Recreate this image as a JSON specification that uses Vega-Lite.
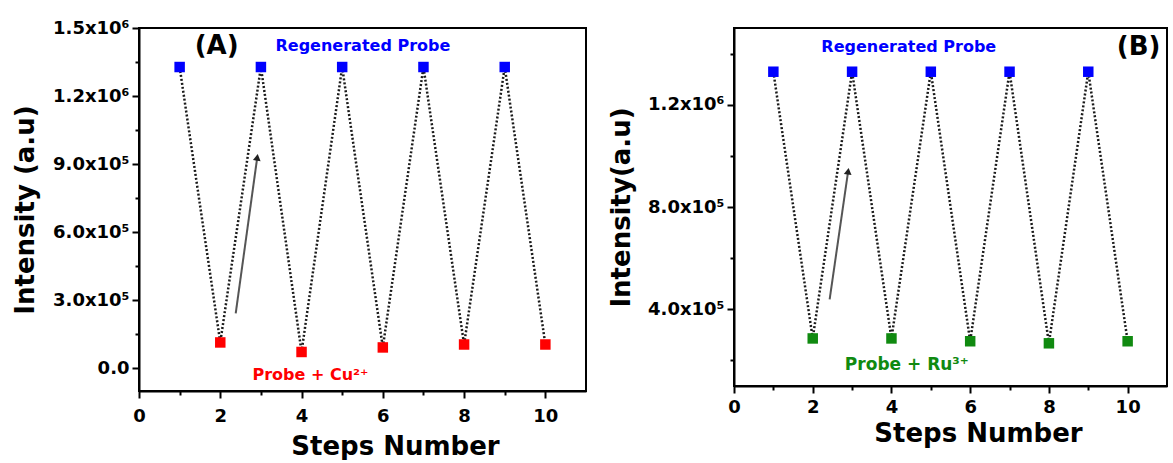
{
  "$schema": "https://vega.github.io/schema/vega-lite/v6.json",
  "background": "white",
  "padding": {"left": 11, "top": 18, "right": 2, "bottom": 0},
  "spacing": 20,
  "datasets": {
    "a_points": [
      {"step": 1, "intensity": 1328000, "state": "Regenerated Probe"},
      {"step": 2, "intensity": 114000, "state": "Probe + Cu2+"},
      {"step": 3, "intensity": 1328000, "state": "Regenerated Probe"},
      {"step": 4, "intensity": 72000, "state": "Probe + Cu2+"},
      {"step": 5, "intensity": 1328000, "state": "Regenerated Probe"},
      {"step": 6, "intensity": 92000, "state": "Probe + Cu2+"},
      {"step": 7, "intensity": 1328000, "state": "Regenerated Probe"},
      {"step": 8, "intensity": 105000, "state": "Probe + Cu2+"},
      {"step": 9, "intensity": 1328000, "state": "Regenerated Probe"},
      {"step": 10, "intensity": 105000, "state": "Probe + Cu2+"}
    ],
    "b_points": [
      {"step": 1, "intensity": 1329000, "state": "Regenerated Probe"},
      {"step": 2, "intensity": 286000, "state": "Probe + Ru3+"},
      {"step": 3, "intensity": 1329000, "state": "Regenerated Probe"},
      {"step": 4, "intensity": 286000, "state": "Probe + Ru3+"},
      {"step": 5, "intensity": 1329000, "state": "Regenerated Probe"},
      {"step": 6, "intensity": 275000, "state": "Probe + Ru3+"},
      {"step": 7, "intensity": 1329000, "state": "Regenerated Probe"},
      {"step": 8, "intensity": 267000, "state": "Probe + Ru3+"},
      {"step": 9, "intensity": 1329000, "state": "Regenerated Probe"},
      {"step": 10, "intensity": 275000, "state": "Probe + Ru3+"}
    ],
    "a_arrow": [{"step": 2.38, "intensity": 242000, "step_end": 2.91, "intensity_end": 930000}],
    "b_arrow": [{"step": 2.43, "intensity": 439000, "step_end": 2.9, "intensity_end": 940000}],
    "a_notes": [
      {"step": 1.91, "intensity": 1420000, "label": "(A)", "kind": "panel"},
      {"step": 5.51, "intensity": 1420000, "label": "Regenerated Probe", "kind": "regen"},
      {"step": 4.22, "intensity": -31000, "label": "Probe + Cu²⁺", "kind": "complex"}
    ],
    "b_notes": [
      {"step": 10.28, "intensity": 1424000, "label": "(B)", "kind": "panel"},
      {"step": 4.44, "intensity": 1427000, "label": "Regenerated Probe", "kind": "regen"},
      {"step": 4.39, "intensity": 184000, "label": "Probe + Ru³⁺", "kind": "complex"}
    ]
  },
  "hconcat": [
    {
      "width": 447,
      "height": 363,
      "encoding": {
        "x": {
          "field": "step", "type": "quantitative",
          "scale": {"domain": [0, 11], "nice": false, "zero": false},
          "axis": {
            "title": "Steps Number",
            "values": [0, 1, 2, 3, 4, 5, 6, 7, 8, 9, 10],
            "labelExpr": "datum.value % 2 == 0 ? datum.label : ''",
            "tickSize": {"condition": {"test": "datum.value % 2 != 0", "value": 4}, "value": 7},
            "labelPadding": 9,
            "titleX": 256, "titleY": 55, "titleBaseline": "middle"
          }
        },
        "y": {
          "field": "intensity", "type": "quantitative",
          "scale": {"domain": [-100000, 1500000], "nice": false, "zero": false},
          "axis": {
            "title": "Intensity (a.u)",
            "values": [0, 150000, 300000, 450000, 600000, 750000, 900000, 1050000, 1200000, 1350000, 1500000],
            "labelExpr": "datum.value % 300000 != 0 ? '' : datum.value == 0 ? '0.0' : datum.value < 1000000 ? format(datum.value / 100000, '.1f') + 'x10⁵' : format(datum.value / 1000000, '.1f') + 'x10⁶'",
            "tickSize": {"condition": {"test": "datum.value % 300000 != 0", "value": 4}, "value": 7},
            "labelPadding": 3,
            "titleX": -114, "titleBaseline": "middle"
          }
        }
      },
      "layer": [
        {
          "data": {"name": "a_points"},
          "mark": {"type": "line", "strokeDash": [2, 2], "strokeWidth": 2.5, "color": "#1a1a1a"},
          "encoding": {"order": {"field": "step"}}
        },
        {
          "data": {"name": "a_points"},
          "mark": {"type": "point", "shape": "square", "filled": true, "size": 110, "opacity": 1},
          "encoding": {
            "color": {"field": "state", "type": "nominal", "scale": {"domain": ["Regenerated Probe", "Probe + Cu2+"], "range": ["#0000ff", "#ff0000"]}, "legend": null}
          }
        },
        {
          "data": {"name": "a_arrow"},
          "mark": {"type": "rule", "color": "#555555", "strokeWidth": 2},
          "encoding": {"x2": {"field": "step_end"}, "y2": {"field": "intensity_end"}}
        },
        {
          "data": {"name": "a_arrow"},
          "mark": {"type": "point", "shape": "triangle-up", "filled": true, "size": 60, "angle": 8, "color": "#222222", "opacity": 1},
          "encoding": {"x": {"field": "step_end", "type": "quantitative"}, "y": {"field": "intensity_end", "type": "quantitative"}}
        },
        {
          "data": {"name": "a_notes"},
          "transform": [{"filter": "datum.kind == 'panel'"}],
          "mark": {"type": "text", "font": "DejaVu Sans", "fontWeight": "bold", "fontSize": 26, "color": "#000000", "baseline": "middle"},
          "encoding": {"text": {"field": "label"}}
        },
        {
          "data": {"name": "a_notes"},
          "transform": [{"filter": "datum.kind == 'regen'"}],
          "mark": {"type": "text", "font": "DejaVu Sans", "fontWeight": "bold", "fontSize": 16, "color": "#0000ff", "baseline": "middle"},
          "encoding": {"text": {"field": "label"}}
        },
        {
          "data": {"name": "a_notes"},
          "transform": [{"filter": "datum.kind == 'complex'"}],
          "mark": {"type": "text", "font": "DejaVu Sans", "fontWeight": "bold", "fontSize": 16, "color": "#ff0000", "baseline": "middle"},
          "encoding": {"text": {"field": "label"}}
        }
      ]
    },
    {
      "width": 433,
      "height": 358,
      "encoding": {
        "x": {
          "field": "step", "type": "quantitative",
          "scale": {"domain": [0, 11], "nice": false, "zero": false},
          "axis": {
            "title": "Steps Number",
            "values": [0, 1, 2, 3, 4, 5, 6, 7, 8, 9, 10],
            "labelExpr": "datum.value % 2 == 0 ? datum.label : ''",
            "tickSize": {"condition": {"test": "datum.value % 2 != 0", "value": 4}, "value": 7},
            "labelPadding": 5,
            "titleX": 244, "titleY": 47, "titleBaseline": "middle"
          }
        },
        "y": {
          "field": "intensity", "type": "quantitative",
          "scale": {"domain": [100000, 1500000], "nice": false, "zero": false},
          "axis": {
            "title": "Intensity(a.u)",
            "values": [200000, 400000, 600000, 800000, 1000000, 1200000, 1400000],
            "labelExpr": "datum.value % 400000 != 0 ? '' : datum.value < 1000000 ? format(datum.value / 100000, '.1f') + 'x10⁵' : format(datum.value / 1000000, '.1f') + 'x10⁶'",
            "tickSize": {"condition": {"test": "datum.value % 400000 != 0", "value": 4}, "value": 7},
            "labelPadding": 3,
            "titleX": -113, "titleBaseline": "middle"
          }
        }
      },
      "layer": [
        {
          "data": {"name": "b_points"},
          "mark": {"type": "line", "strokeDash": [2, 2], "strokeWidth": 2.5, "color": "#1a1a1a"},
          "encoding": {"order": {"field": "step"}}
        },
        {
          "data": {"name": "b_points"},
          "mark": {"type": "point", "shape": "square", "filled": true, "size": 110, "opacity": 1},
          "encoding": {
            "color": {"field": "state", "type": "nominal", "scale": {"domain": ["Regenerated Probe", "Probe + Ru3+"], "range": ["#0000ff", "#108a10"]}, "legend": null}
          }
        },
        {
          "data": {"name": "b_arrow"},
          "mark": {"type": "rule", "color": "#555555", "strokeWidth": 2},
          "encoding": {"x2": {"field": "step_end"}, "y2": {"field": "intensity_end"}}
        },
        {
          "data": {"name": "b_arrow"},
          "mark": {"type": "point", "shape": "triangle-up", "filled": true, "size": 60, "angle": 8, "color": "#222222", "opacity": 1},
          "encoding": {"x": {"field": "step_end", "type": "quantitative"}, "y": {"field": "intensity_end", "type": "quantitative"}}
        },
        {
          "data": {"name": "b_notes"},
          "transform": [{"filter": "datum.kind == 'panel'"}],
          "mark": {"type": "text", "font": "DejaVu Sans", "fontWeight": "bold", "fontSize": 26, "color": "#000000", "baseline": "middle"},
          "encoding": {"text": {"field": "label"}}
        },
        {
          "data": {"name": "b_notes"},
          "transform": [{"filter": "datum.kind == 'regen'"}],
          "mark": {"type": "text", "font": "DejaVu Sans", "fontWeight": "bold", "fontSize": 16, "color": "#0000ff", "baseline": "middle"},
          "encoding": {"text": {"field": "label"}}
        },
        {
          "data": {"name": "b_notes"},
          "transform": [{"filter": "datum.kind == 'complex'"}],
          "mark": {"type": "text", "font": "DejaVu Sans", "fontWeight": "bold", "fontSize": 17, "color": "#108a10", "baseline": "middle"},
          "encoding": {"text": {"field": "label"}}
        }
      ]
    }
  ],
  "resolve": {"scale": {"color": "independent", "x": "independent", "y": "independent"}},
  "config": {
    "font": "DejaVu Sans",
    "view": {"stroke": "#000000", "strokeWidth": 2},
    "axis": {
      "grid": false,
      "domainColor": "#000000",
      "domainWidth": 2,
      "tickColor": "#000000",
      "tickWidth": 2,
      "labelFont": "DejaVu Sans",
      "labelFontWeight": "bold",
      "labelFontSize": 18,
      "labelColor": "#000000",
      "labelFlush": false,
      "labelOverlap": false,
      "titleFont": "DejaVu Sans",
      "titleFontWeight": "bold",
      "titleFontSize": 26,
      "titleColor": "#000000"
    }
  }
}
